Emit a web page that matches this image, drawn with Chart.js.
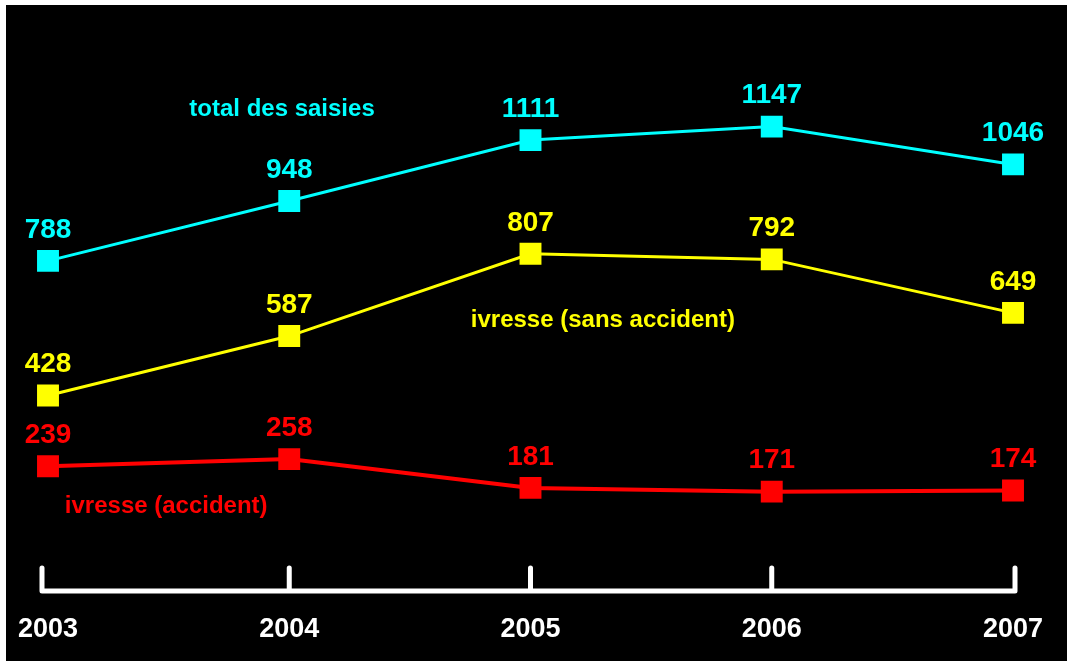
<!DOCTYPE html>
<html>
<head>
<meta charset="utf-8">
<script src="https://cdn.jsdelivr.net/npm/chart.js@4"></script>
<style>
  html, body { margin: 0; padding: 0; background: #fff; }
  #wrap { position: absolute; left: 6px; top: 5px; width: 1061px; height: 656px; background: #000; }
</style>
</head>
<body>
<div id="wrap"><canvas id="chart"></canvas></div>
<script>
// Data
const years = ['2003', '2004', '2005', '2006', '2007'];
const totalSaisies = [788, 948, 1111, 1147, 1046];
const ivresseSansAccident = [428, 587, 807, 792, 649];
const ivresseAccident = [239, 258, 181, 171, 174];

const seriesNames = ['total des saisies', 'ivresse (sans accident)', 'ivresse (accident)'];
const seriesColors = ['#00ffff', '#ffff00', '#ff0000'];

const FONT = '"Liberation Sans", Arial, sans-serif';

// where the series names sit, in data coordinates (x index, y value)
const nameSpots = [
  { x: 0.97, y: 1192 },
  { x: 2.30, y: 628 },
  { x: 0.49, y: 131 }
];

// value labels above each marker, plus series names
const labelsPlugin = {
  id: 'labels',
  afterDatasetsDraw(chart) {
    const ctx = chart.ctx;
    const xs = chart.scales.x, ys = chart.scales.y;
    ctx.save();
    ctx.textAlign = 'center';
    ctx.textBaseline = 'middle';
    chart.data.datasets.forEach((ds, i) => {
      const meta = chart.getDatasetMeta(i);
      ctx.fillStyle = ds.borderColor;
      ctx.font = 'bold 28px ' + FONT;
      meta.data.forEach((pt, j) => {
        ctx.fillText(String(ds.data[j]), pt.x, pt.y - 31);
      });
      ctx.font = 'bold 24px ' + FONT;
      const spot = nameSpots[i];
      ctx.fillText(ds.label, xs.getPixelForValue(spot.x), ys.getPixelForValue(spot.y));
    });
    ctx.restore();
  }
};

// white bracket-style x axis with upward ticks and year labels
const axisPlugin = {
  id: 'bracketAxis',
  afterDraw(chart) {
    const ctx = chart.ctx;
    const xs = chart.scales.x;
    const y0 = chart.chartArea.bottom - 2;
    const first = xs.getPixelForValue(0) - 6;
    const last = xs.getPixelForValue(years.length - 1) + 2;
    ctx.save();
    ctx.strokeStyle = '#fff';
    ctx.lineWidth = 5;
    ctx.lineCap = 'round';
    ctx.beginPath();
    ctx.moveTo(first, y0);
    ctx.lineTo(last, y0);
    years.forEach((yr, i) => {
      let px = xs.getPixelForValue(i);
      if (i === 0) px = first;
      if (i === years.length - 1) px = last;
      ctx.moveTo(px, y0);
      ctx.lineTo(px, y0 - 23);
    });
    ctx.stroke();
    ctx.fillStyle = '#fff';
    ctx.font = 'bold 27px ' + FONT;
    ctx.textAlign = 'center';
    ctx.textBaseline = 'middle';
    years.forEach((yr, i) => {
      ctx.fillText(yr, xs.getPixelForValue(i), y0 + 39);
    });
    ctx.restore();
  }
};

function lineSet(label, data, color, width) {
  return {
    label: label,
    data: data,
    borderColor: color,
    backgroundColor: color,
    borderWidth: width,
    pointStyle: 'rect',
    pointRadius: 15.5,
    pointHoverRadius: 15.5,
    pointBorderWidth: 0,
    tension: 0
  };
}

const ctx = document.getElementById('chart').getContext('2d');
new Chart(ctx, {
  type: 'line',
  data: {
    labels: years,
    datasets: [
      lineSet(seriesNames[0], totalSaisies, seriesColors[0], 3),
      lineSet(seriesNames[1], ivresseSansAccident, seriesColors[1], 3),
      lineSet(seriesNames[2], ivresseAccident, seriesColors[2], 4)
    ]
  },
  options: {
    responsive: true,
    maintainAspectRatio: false,
    animation: false,
    layout: { padding: { left: 42, right: 54, top: 27, bottom: 68 } },
    scales: {
      x: { display: false, offset: false },
      y: { display: false, min: -100, max: 1400 }
    },
    plugins: {
      legend: { display: false },
      tooltip: { enabled: false }
    }
  },
  plugins: [labelsPlugin, axisPlugin]
});
</script>
</body>
</html>
